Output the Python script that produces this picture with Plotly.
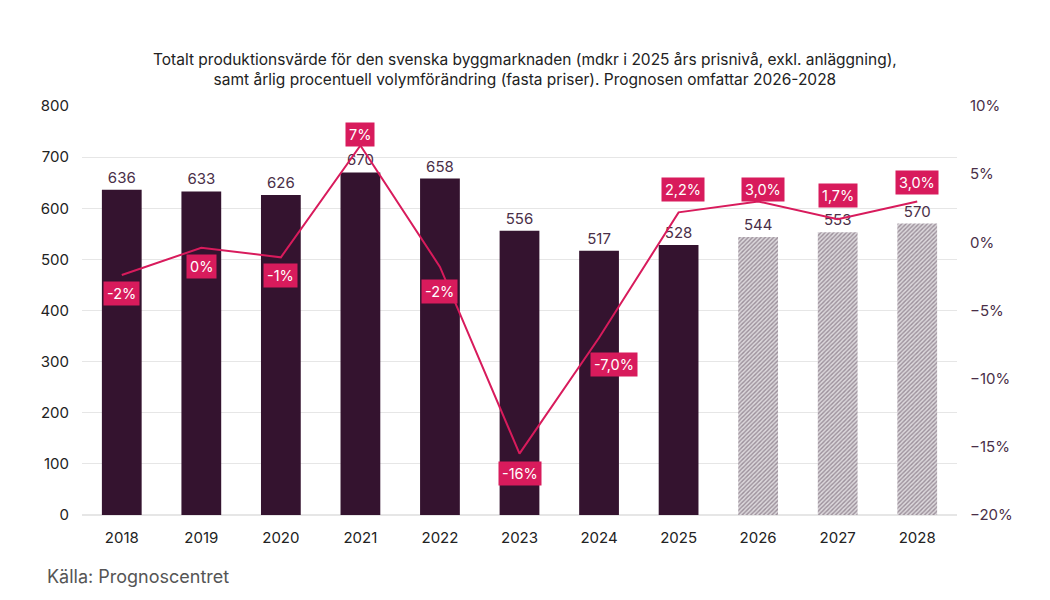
import plotly.graph_objects as go

years = [2018, 2019, 2020, 2021, 2022, 2023, 2024, 2025, 2026, 2027, 2028]
production = [636, 633, 626, 670, 658, 556, 517, 528, 544, 553, 570]
change_pct = [-2.4, -0.4, -1.1, 7.1, -1.8, -15.5, -7.0, 2.2, 3.0, 1.7, 3.0]
change_labels = ["-2%", "0%", "-1%", "7%", "-2%", "-16%", "-7,0%", "2,2%", "3,0%", "1,7%", "3,0%"]
forecast_years = [2026, 2027, 2028]

# label offsets (layout only): (xshift, yshift) in pixels
label_offsets = [(0, -18), (0, -19), (0, -18), (0, 11), (0, -25), (0, -20),
                 (15, -27), (4, 23), (5, 12), (0, 24), (0, 19)]

DARK = "#34132f"
PINK = "#d81b5c"

hist_x = [y for y in years if y not in forecast_years]
hist_v = [v for y, v in zip(years, production) if y not in forecast_years]
fc_x = [y for y in years if y in forecast_years]
fc_v = [v for y, v in zip(years, production) if y in forecast_years]

# page has an 8px body margin; figure sized to fit the window
OFF = 8
FIG_W, FIG_H = 1050 - 2 * OFF, 600 - 2 * OFF
plot_l = 82 - OFF
plot_t = 106 - OFF
plot_r = FIG_W - (957 - OFF)
plot_b = FIG_H - (515 - OFF)
plot_w = FIG_W - plot_l - plot_r
plot_h = FIG_H - plot_t - plot_b

fig = go.Figure()
fig.add_trace(go.Bar(
    x=hist_x, y=hist_v, width=0.5, marker=dict(color=DARK, line=dict(width=0)),
    text=[str(v) for v in hist_v], textposition="outside",
    textfont=dict(size=15, color="#4a2f48"), cliponaxis=False, showlegend=False,
))
fig.add_trace(go.Bar(
    x=fc_x, y=fc_v, width=0.5,
    marker=dict(color="#ffffff", line=dict(width=0),
                pattern=dict(shape="/", size=3, solidity=0.45,
                             fgcolor="#5a4658", bgcolor="#dcd8dc")),
    text=[str(v) for v in fc_v], textposition="outside",
    textfont=dict(size=15, color="#4a2f48"), cliponaxis=False, showlegend=False,
))
fig.add_trace(go.Scatter(
    x=years, y=change_pct, yaxis="y2", mode="lines",
    line=dict(color=PINK, width=2), showlegend=False,
))

for yr, val, lab, (dx, dy) in zip(years, change_pct, change_labels, label_offsets):
    fig.add_annotation(
        x=yr, y=val, xref="x", yref="y2", text=lab, showarrow=False,
        xshift=dx, yshift=dy, bgcolor=PINK, borderpad=3,
        font=dict(color="#ffffff", size=14.5, family="Inter, sans-serif"),
    )

fig.add_annotation(
    x=(525 - OFF - plot_l) / plot_w, y=1.0, xref="paper", yref="paper", yshift=37,
    showarrow=False,
    text="Totalt produktionsvärde för den svenska byggmarknaden (mdkr i 2025 års prisnivå, exkl. anläggning),<br>"
         "samt årlig procentuell volymförändring (fasta priser). Prognosen omfattar 2026-2028",
    font=dict(size=15.5, color="#222222"), xanchor="center", yanchor="middle",
)
fig.add_annotation(
    x=(45 - OFF - plot_l) / plot_w, y=(FIG_H - plot_b - (576 - OFF)) / plot_h,
    xref="paper", yref="paper", showarrow=False, text="Källa: Prognoscentret",
    font=dict(size=18, color="#555555"), xanchor="left", yanchor="middle",
)

fig.update_layout(
    width=FIG_W, height=FIG_H,
    margin=dict(l=plot_l, r=plot_r, t=plot_t, b=plot_b),
    paper_bgcolor="#ffffff", plot_bgcolor="#ffffff",
    font=dict(family="Inter, sans-serif", size=15, color="#222222"),
    barmode="overlay",
    xaxis=dict(range=[2017.5, 2028.5], tickvals=years, ticktext=[str(y) for y in years],
               showgrid=False, showline=False, zeroline=False, ticks="",
               ticklabelstandoff=12, tickfont=dict(size=15, color="#222222")),
    yaxis=dict(range=[0, 800], dtick=100, showgrid=True, gridcolor="#e6e6e6",
               gridwidth=1, zeroline=True, zerolinecolor="#e6e6e6", showline=False,
               ticks="", ticklabelstandoff=12, tickfont=dict(size=15, color="#222222")),
    yaxis2=dict(range=[-20, 10], dtick=5, overlaying="y", side="right",
                showgrid=False, zeroline=False, showline=False, ticks="",
                ticksuffix="%", ticklabelstandoff=12,
                tickfont=dict(size=15, color="#4a2f48")),
)

fig.write_html("out.html")
